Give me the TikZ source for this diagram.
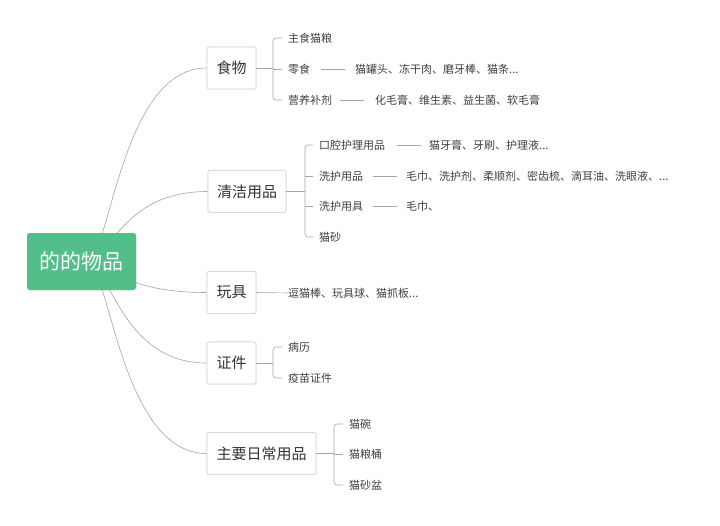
\documentclass[tikz,border=0pt]{standalone}
\usepackage{fontspec}
\setmainfont{Noto Sans CJK SC}
\begin{document}
\begin{tikzpicture}[x=1pt,y=-1pt,
  ln/.style={draw=black!35,line width=0.6pt},
  lvl/.style={draw=black!15,fill=white,rounded corners=2pt,line width=0.8pt,font=\fontsize{15}{18}\selectfont,text=black!80,minimum height=42pt,inner xsep=8pt},
  leaf/.style={anchor=west,font=\fontsize{11}{13}\selectfont,text=black!75,inner sep=0pt}]
\useasboundingbox (0,0) rectangle (720,525);
\fill[white] (0,0) rectangle (720,525);
\definecolor{rootg}{HTML}{52BF8A}
\node[fill=rootg,rounded corners=3pt,minimum width=109pt,minimum height=57pt,text=white,font=\fontsize{21}{24}\selectfont] (root) at (81.5,261.5) {的的物品};
\coordinate (rs) at (86,262);
\node[lvl,minimum width=49pt] (a) at (231.5,68) {食物};
\node[lvl,minimum width=78pt] (b) at (247,191.5) {清洁用品};
\node[lvl,minimum width=49pt] (c) at (231.5,292.5) {玩具};
\node[lvl,minimum width=49pt] (d) at (231.5,363) {证件};
\node[lvl,minimum width=109pt] (e) at (261.5,453.5) {主要日常用品};
\begin{scope}[on background layer/.style={}]
\foreach \n in {a,b,c,d,e} \draw[ln] (rs) .. controls (110,262) and (120,0|-\n.west) .. (\n.west);
\end{scope}
\node[lvl,minimum width=49pt] at (a) {食物};
\node[lvl,minimum width=78pt] at (b) {清洁用品};
\node[lvl,minimum width=49pt] at (c) {玩具};
\node[lvl,minimum width=49pt] at (d) {证件};
\node[lvl,minimum width=109pt] at (e) {主要日常用品};
\node[fill=rootg,rounded corners=3pt,minimum width=109pt,minimum height=57pt,text=white,font=\fontsize{21}{24}\selectfont] at (root) {的的物品};
% food
\node[leaf] (a1) at (288,38) {主食猫粮};
\node[leaf] (a2) at (288,69) {零食};
\node[leaf] (a3) at (288,100) {营养补剂};
\node[leaf] (a2x) at (355,69) {猫罐头、冻干肉、磨牙棒、猫条...};
\node[leaf] (a3x) at (375,100) {化毛膏、维生素、益生菌、软毛膏};
\draw[ln] (a.east) -- (273,68);
\draw[ln,rounded corners=3pt] (282,38) -- (273,38) -- (273,100) -- (282,100);
\draw[ln] (273,69) -- (282,69);
\draw[ln] (a2.east)++(11,0) -- ++(24,0);
\draw[ln] (a3.east)++(8,0) -- ++(24,0);
% cleaning
\node[leaf] (b1) at (319,145) {口腔护理用品};
\node[leaf] (b2) at (319,176) {洗护用品};
\node[leaf] (b3) at (319,206) {洗护用具};
\node[leaf] (b4) at (319,237) {猫砂};
\node[leaf] (b1x) at (429,145) {猫牙膏、牙刷、护理液...};
\node[leaf] (b2x) at (406,176) {毛巾、洗护剂、柔顺剂、密齿梳、滴耳油、洗眼液、...};
\node[leaf] (b3x) at (406,206) {毛巾、};
\draw[ln] (b.east) -- (305,191.5);
\draw[ln,rounded corners=3pt] (313,145) -- (305,145) -- (305,237) -- (313,237);
\draw[ln] (305,176) -- (313,176);
\draw[ln] (305,206) -- (313,206);
\draw[ln] (397,145) -- (421,145);
\draw[ln] (373,176) -- (397,176);
\draw[ln] (373,206) -- (397,206);
% toys
\node[leaf] (c1) at (288,293) {逗猫棒、玩具球、猫抓板...};
\draw[ln] (c.east) -- (c1.west);
% docs
\node[leaf] (d1) at (288,347) {病历};
\node[leaf] (d2) at (288,378) {疫苗证件};
\draw[ln] (d.east) -- (273,363);
\draw[ln,rounded corners=3pt] (282,347) -- (273,347) -- (273,378) -- (282,378);
% daily
\node[leaf] (e1) at (349,424) {猫碗};
\node[leaf] (e2) at (349,454) {猫粮桶};
\node[leaf] (e3) at (349,485) {猫砂盆};
\draw[ln] (e.east) -- (334,453.5);
\draw[ln,rounded corners=3pt] (343,424) -- (334,424) -- (334,485) -- (343,485);
\draw[ln] (334,454) -- (343,454);
\end{tikzpicture}
\end{document}
